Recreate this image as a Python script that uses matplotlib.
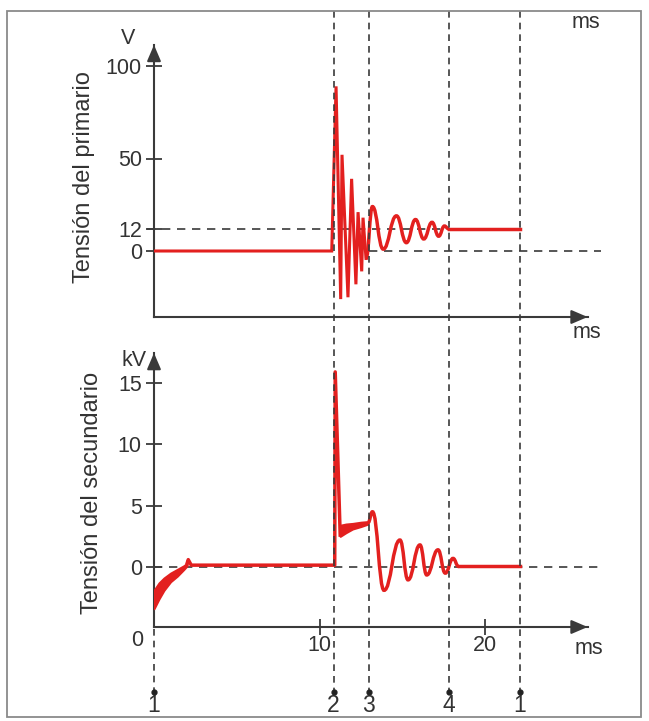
import matplotlib
matplotlib.use("Agg")
import matplotlib.pyplot as plt
from matplotlib.path import Path
from matplotlib.patches import PathPatch, Rectangle
from matplotlib.transforms import blended_transform_factory
from matplotlib.lines import Line2D

plt.rcParams['font.family'] = ['Liberation Sans', 'DejaVu Sans']

# ---------------- data ----------------
# event times (ms) and their labels
event_t = [0.0, 10.85, 12.97, 17.8, 22.1]
event_lbl = ["1", "2", "3", "4", "1"]

# primary voltage (V): fast ringing after the spark
prim_fast_t = [0.0, 10.74, 11.0, 11.28, 11.36, 11.72, 11.94, 12.2, 12.33, 12.55, 12.63, 12.81]
prim_fast_v = [0.0, 0.0, 89.0, -26.0, 52.0, -25.0, 39.0, -18.0, 21.0, -11.0, 18.0, -4.0]
# primary voltage (V): slow oscillation extrema
prim_slow_t = [12.81, 13.2, 13.85, 14.65, 15.25, 15.8, 16.3, 16.8, 17.2, 17.55, 17.8]
prim_slow_v = [-4.0, 24.0, 1.0, 19.0, 4.5, 17.0, 6.5, 15.5, 8.0, 13.5, 12.0]
prim_end_t = [17.8, 22.1]
prim_end_v = [12.0, 12.0]
prim_yticks = [0, 12, 50, 100]

# secondary voltage (kV)
sec_band1_t = [0.0, 0.3, 0.6, 1.0, 1.4, 1.8, 2.0]
sec_band1_hi = [-1.9, -1.3, -0.9, -0.5, -0.2, 0.1, 0.3]
sec_band1_lo = [-3.4, -2.6, -1.9, -1.2, -0.75, -0.2, 0.1]
sec_flat_t = [2.0, 2.07, 2.25, 10.92, 10.95, 11.25]
sec_flat_v = [0.3, 0.6, 0.15, 0.15, 15.9, 2.6]
sec_band2_t = [11.25, 11.6, 12.0, 12.5, 12.93]
sec_band2_hi = [3.4, 3.5, 3.55, 3.65, 3.7]
sec_band2_lo = [2.5, 2.8, 3.1, 3.3, 3.5]
sec_osc_t = [12.93, 13.2, 13.9, 14.86, 15.35, 16.07, 16.48, 17.16, 17.6, 18.07, 18.4]
sec_osc_v = [3.6, 4.5, -1.9, 2.2, -1.05, 1.8, -0.65, 1.4, -0.5, 0.7, 0.05]
sec_end_t = [18.4, 22.1]
sec_end_v = [0.05, 0.05]
sec_yticks = [0, 5, 10, 15]
sec_xticks = [10, 20]

# ---------------- layout ----------------
W, H = 649, 721
PXMS = 16.55      # px per ms
X0 = 154          # px of t = 0
XMAX = 27.6
RED = '#e3201f'
AX = '#3a3a3a'
TXT = '#333333'
FS = 15.5
LW = 2.5

fig = plt.figure(figsize=(W / 100, H / 100), dpi=100)

def fx(px):
    return px / W

def fy(py):
    return 1 - py / H

def make_axes(top_px, bot_px, v0_px, pxv):
    ax = fig.add_axes([fx(X0), fy(bot_px), XMAX * PXMS / W, (bot_px - top_px) / H])
    ax.set_xlim(0, XMAX)
    ax.set_ylim((v0_px - bot_px) / pxv, (v0_px - top_px) / pxv)
    ax.patch.set_alpha(0)
    for s in ['top', 'right']:
        ax.spines[s].set_visible(False)
    for s in ['left', 'bottom']:
        ax.spines[s].set_color(AX)
        ax.spines[s].set_linewidth(1.5)
    ax.tick_params(direction='inout', length=11.5, width=1.3, color=AX,
                   labelsize=FS, labelcolor=TXT, pad=3)
    return ax

def arrows(ax, xtip, ytip):
    y0 = ax.get_ylim()[0]
    ax.spines['bottom'].set_bounds(0, xtip)
    ax.spines['left'].set_bounds(y0, ytip)
    dx = 0.6
    dy = (ax.get_ylim()[1] - y0) * 0.03
    kw = dict(arrowstyle='-|>,head_length=0.7,head_width=0.3', color=AX,
              lw=1.5, shrinkA=0, shrinkB=0, mutation_scale=14)
    ax.annotate('', xy=(xtip, y0), xytext=(xtip - dx, y0), arrowprops=kw,
                annotation_clip=False)
    ax.annotate('', xy=(0, ytip), xytext=(0, ytip - dy), arrowprops=kw,
                annotation_clip=False)

def smooth(ts, vs, k=0.45):
    verts = [(ts[0], vs[0])]
    codes = [Path.MOVETO]
    for i in range(1, len(ts)):
        d = ts[i] - ts[i - 1]
        verts += [(ts[i - 1] + k * d, vs[i - 1]), (ts[i] - k * d, vs[i]), (ts[i], vs[i])]
        codes += [Path.CURVE4] * 3
    return Path(verts, codes)

# ---- top panel: primary ----
ax1 = make_axes(40, 317, 251, 1.85)
ax1.set_xticks([])
ax1.set_yticks(prim_yticks)
ax1.set_yticklabels([str(v) for v in prim_yticks])
arrows(ax1, 26.2, 111.4)
ax1.plot([-0.45, event_t[4]], [12, 12], color=AX, lw=1.2, dashes=(5, 4), clip_on=False, zorder=2)
ax1.plot([event_t[2], 27.0], [0, 0], color=AX, lw=1.2, dashes=(5, 4), clip_on=False, zorder=2)
ax1.plot(prim_fast_t, prim_fast_v, color=RED, lw=2.2, zorder=3, solid_joinstyle='miter')
ax1.add_patch(PathPatch(smooth(prim_slow_t, prim_slow_v), fill=False, ec=RED, lw=LW, zorder=3))
ax1.plot(prim_end_t, prim_end_v, color=RED, lw=LW, zorder=3)

# ---- bottom panel: secondary ----
ax2 = make_axes(350, 627, 567, 12.27)
ax2.set_xticks(sec_xticks)
ax2.set_xticklabels([str(v) for v in sec_xticks])
ax2.tick_params(axis='x', pad=0)
ax2.set_yticks(sec_yticks)
ax2.set_yticklabels([str(v) for v in sec_yticks])
arrows(ax2, 26.2, 17.44)
ax2.plot([0, 27.0], [0, 0], color=AX, lw=1.2, dashes=(5, 4), clip_on=False, zorder=2)
ax2.fill_between(sec_band1_t, sec_band1_lo, sec_band1_hi, color=RED, lw=1.5, ec=RED, zorder=3)
ax2.plot(sec_flat_t, sec_flat_v, color=RED, lw=LW, zorder=3)
ax2.fill_between(sec_band2_t, sec_band2_lo, sec_band2_hi, color=RED, lw=1.5, ec=RED, zorder=3)
ax2.add_patch(PathPatch(smooth(sec_osc_t, sec_osc_v), fill=False, ec=RED, lw=LW, zorder=3))
ax2.plot(sec_end_t, sec_end_v, color=RED, lw=LW, zorder=3)

# ---- vertical event lines, dots and labels ----
tr = blended_transform_factory(ax2.transData, fig.transFigure)
for i, (t, lbl) in enumerate(zip(event_t, event_lbl)):
    ytop = fy(629) if i == 0 else fy(11)
    fig.add_artist(Line2D([t, t], [ytop, fy(692)], transform=tr, color=AX,
                          lw=1.2, dashes=(4, 3), zorder=1))
    fig.add_artist(Line2D([t], [fy(692)], transform=tr, marker='o', ms=3.5,
                          color='#222222', zorder=4))
    fig.text(t, fy(706), lbl, transform=tr, ha='center', va='center',
             fontsize=16.5, color=TXT)

# ---- texts ----
fig.text(fx(128), fy(38), 'V', ha='center', va='center', fontsize=FS, color=TXT)
fig.text(fx(134), fy(360), 'kV', ha='center', va='center', fontsize=FS, color=TXT)
fig.text(fx(586), fy(22), 'ms', ha='center', va='center', fontsize=FS, color=TXT)
fig.text(fx(587), fy(333), 'ms', ha='center', va='center', fontsize=FS, color=TXT)
fig.text(fx(589), fy(648), 'ms', ha='center', va='center', fontsize=FS, color=TXT)
fig.text(fx(137), fy(641), '0', ha='center', va='center', fontsize=FS, color=TXT)
fig.text(fx(84), fy(177), 'Tensión del primario', rotation=90, ha='center',
         va='center', fontsize=17, color=TXT)
fig.text(fx(92), fy(493), 'Tensión del secundario', rotation=90, ha='center',
         va='center', fontsize=17, color=TXT)

# ---- frame ----
fig.add_artist(Rectangle((fx(7), fy(717)), fx(641) - fx(7), fy(11) - fy(717),
                         transform=fig.transFigure, fill=False, ec='#8a8a8a', lw=1.3))

fig.savefig('out.png', dpi=100)
